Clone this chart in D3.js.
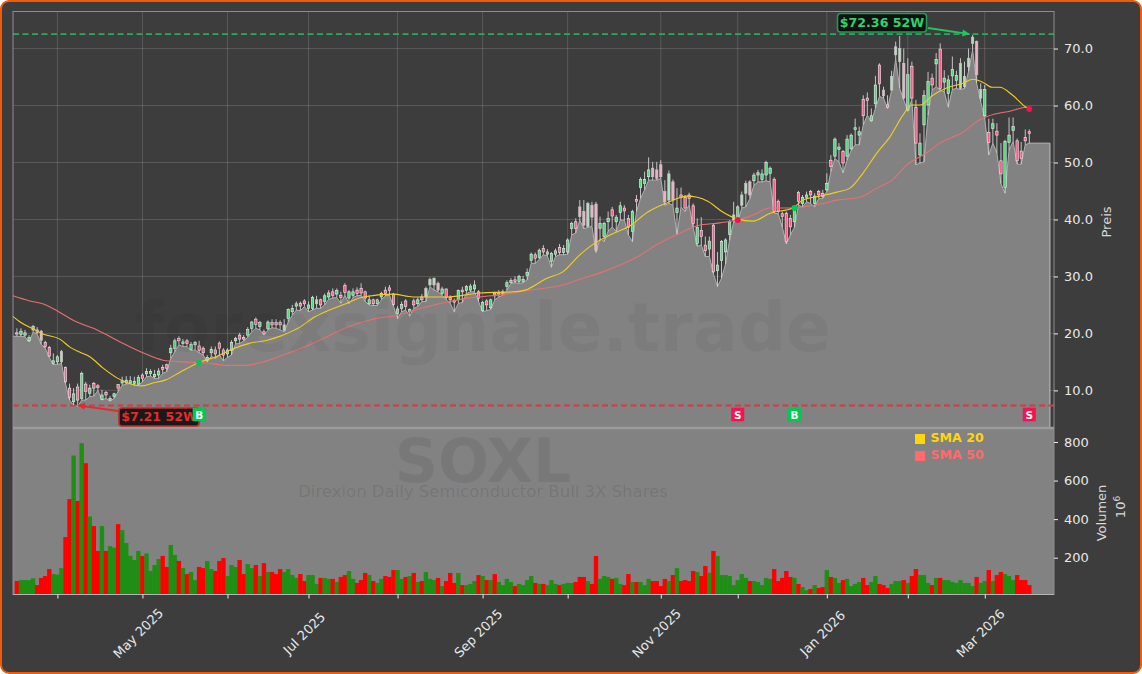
<!DOCTYPE html>
<html><head><meta charset="utf-8">
<script src="https://cdn.jsdelivr.net/npm/d3@7/dist/d3.min.js"></script>
<style>
html,body{margin:0;padding:0;background:#fff;overflow:hidden}
#frame{position:absolute;left:0;top:0;width:1142px;height:674px;box-sizing:border-box;background:#3d3d3d;border:2px solid #f05a0a;border-radius:9px;overflow:hidden}
svg{position:absolute;left:-2px;top:-2px;font-family:"DejaVu Sans",sans-serif}
</style></head><body><div id="frame"></div>
<script>
const bodyLow=[19.9,19.8,19.7,18.7,20.6,20.2,18.8,17.7,16.0,14.7,
15.0,15.0,11.5,8.8,8.0,8.3,8.6,9.8,9.5,10.4,
10.5,8.4,9.2,8.3,8.9,10.4,11.3,11.3,11.3,11.2,
11.1,12.1,12.9,13.0,12.4,12.7,13.7,13.9,16.6,17.4,
18.7,18.2,18.2,17.2,18.0,17.0,16.6,15.3,16.6,16.4,
17.4,16.2,16.4,17.0,18.7,19.0,19.0,19.7,20.9,21.6,
21.2,20.0,20.8,21.5,21.5,21.5,20.5,22.6,23.8,24.8,
24.8,25.2,24.4,24.4,25.2,25.0,25.6,26.4,26.7,26.9,
26.3,27.2,26.2,26.7,27.0,27.1,26.2,25.2,25.2,25.2,
26.4,27.0,27.5,25.1,23.5,24.4,24.7,23.8,25.0,25.2,
25.9,26.4,28.5,28.5,27.6,27.0,26.3,25.9,25.5,25.9,
27.3,27.5,27.6,27.8,26.2,24.0,25.0,24.5,26.6,26.9,
27.0,28.2,28.9,29.1,29.1,29.1,30.2,32.8,33.2,33.3,
34.3,33.9,32.6,33.9,34.2,34.2,34.3,38.4,38.4,40.5,
39.0,38.8,40.4,34.6,38.4,37.0,39.6,40.6,39.6,41.2,
41.5,38.6,37.9,43.2,45.6,46.3,47.5,47.5,47.2,47.5,
43.1,43.4,43.4,41.2,43.9,42.0,43.7,39.3,35.8,37.0,
34.5,34.8,30.8,31.0,32.8,34.3,37.4,39.9,40.2,42.5,
44.6,44.3,46.8,47.8,47.0,47.8,48.1,41.4,41.4,40.5,
36.1,38.7,39.6,43.2,42.8,43.9,44.3,42.8,44.3,44.0,
45.2,49.3,51.1,52.3,49.9,51.1,52.4,55.8,54.8,58.2,
60.9,57.3,60.3,63.8,61.7,59.7,62.7,68.9,67.7,61.3,
59.2,61.3,53.4,51.3,56.6,60.1,63.6,67.3,63.0,64.1,
62.1,65.2,64.4,63.0,63.3,66.8,70.9,65.4,61.3,58.2,
53.5,56.0,54.8,48.0,45.6,53.5,55.6,50.3,50.7,53.8,55.1];
const bodyHigh=[20.1,20.4,20.1,19.3,21.2,20.6,20.4,18.4,17.5,15.2,
15.9,16.8,14.0,10.4,9.4,10.6,13.0,11.1,10.4,11.2,
10.8,9.2,9.6,8.6,9.4,11.0,11.7,11.8,11.7,11.6,
12.3,12.7,13.3,13.3,12.8,13.4,14.0,14.5,17.4,18.7,
19.1,18.5,18.7,18.1,18.4,17.8,17.4,15.8,17.2,17.1,
18.3,17.1,17.1,18.4,19.1,19.7,19.3,20.7,22.0,22.5,
21.9,20.3,22.0,21.9,21.9,21.9,21.5,24.2,24.4,25.2,
25.3,25.7,25.0,26.3,25.9,25.9,26.6,27.1,27.3,27.5,
26.7,28.4,27.3,27.3,27.6,27.9,27.3,25.9,25.9,25.9,
27.0,27.6,28.0,26.9,24.3,25.1,25.7,24.2,25.7,25.9,
26.4,27.9,29.5,29.7,28.8,27.8,27.8,26.3,25.7,27.5,
27.6,28.2,28.3,28.5,27.3,25.4,25.7,25.9,27.0,27.2,
27.3,28.9,29.3,29.4,30.0,29.5,30.7,33.9,33.8,34.6,
34.9,34.3,34.0,34.5,35.1,34.9,36.4,39.3,39.6,42.2,
41.4,42.8,42.5,42.7,39.3,39.3,40.2,41.7,40.4,42.4,
42.0,40.2,41.4,43.5,47.0,47.0,48.7,49.0,48.7,49.6,
44.9,48.0,46.6,42.0,44.3,43.9,44.3,42.4,38.6,38.1,
35.5,36.2,39.0,32.0,36.1,36.4,39.6,40.8,42.2,44.3,
46.3,46.6,47.8,48.2,48.0,50.0,49.0,47.0,43.2,41.0,
41.1,40.2,42.0,44.7,43.9,44.3,44.9,44.1,44.9,44.6,
46.3,50.4,54.1,52.7,51.9,54.1,54.8,56.1,55.4,61.1,
61.3,58.2,63.6,67.1,62.7,60.1,65.1,70.3,70.0,67.4,
65.4,66.9,59.7,53.4,61.8,64.2,64.8,68.1,69.9,64.8,
64.5,66.3,65.3,67.4,65.1,68.3,72.0,71.2,62.8,62.8,
55.3,56.8,55.5,50.3,53.7,54.8,56.3,53.8,52.0,54.4,55.4];
const lows=[19.5,19.5,19.4,18.5,20.2,19.9,18.1,17.4,15.8,14.5,
14.6,14.7,11.2,8.3,7.4,7.21,8.3,8.3,8.9,9.0,
10.0,8.3,8.6,8.1,8.6,9.8,10.9,11.1,11.2,10.9,
10.9,11.5,12.4,12.5,12.1,12.1,13.0,13.3,15.6,16.8,
18.0,17.7,17.7,17.0,17.1,16.6,16.2,15.0,16.0,15.6,
16.2,15.2,15.8,16.2,18.2,18.2,18.7,19.3,20.3,20.9,
20.6,19.7,20.6,21.0,20.9,20.6,20.3,22.0,23.2,24.1,
24.0,24.7,23.8,24.1,24.4,24.4,25.0,26.0,26.2,26.3,
25.3,26.7,25.2,26.3,26.6,26.7,25.6,25.0,24.9,24.9,
25.9,26.6,26.7,24.8,22.6,23.8,24.1,23.0,24.4,24.7,
25.6,25.6,28.2,27.6,27.3,26.7,25.9,25.3,23.8,25.3,
25.4,27.0,27.3,27.3,25.6,23.8,24.0,24.2,25.9,26.4,
26.7,27.6,28.8,28.9,28.8,28.9,29.4,32.3,32.3,33.0,
33.8,33.6,31.6,33.5,33.8,33.8,33.9,37.3,37.6,39.9,
38.4,38.6,38.8,34.2,36.7,36.1,37.9,38.7,37.9,39.9,
39.9,37.3,36.1,41.4,43.7,45.2,46.9,46.9,46.9,47.2,
42.5,42.8,42.5,37.3,42.2,41.4,42.5,38.6,35.3,35.5,
33.5,33.5,30.5,28.2,29.7,32.2,36.4,39.6,39.6,42.0,
42.2,43.7,46.0,46.6,46.6,46.8,46.6,41.1,41.0,38.7,
35.7,37.3,38.6,42.5,42.2,43.1,42.8,42.2,43.7,43.7,
44.9,48.4,50.7,50.1,48.2,50.4,52.1,53.1,53.1,56.6,
58.3,57.2,59.5,61.6,61.3,59.5,62.7,68.2,63.0,61.0,
59.0,61.0,49.6,49.9,50.1,58.3,62.7,63.3,62.7,62.4,
59.7,62.8,63.0,62.8,63.0,66.0,69.7,63.9,60.7,57.7,
51.3,53.4,51.7,46.3,44.6,52.2,53.7,49.7,49.7,53.1,53.4];
const highs=[20.9,20.9,20.6,19.7,21.5,21.1,20.6,18.7,17.8,16.5,
16.2,17.1,14.2,11.2,10.4,11.2,13.3,11.5,11.0,11.5,
11.1,10.1,9.9,9.0,9.6,11.1,12.4,12.5,12.5,12.4,
12.7,13.0,13.9,13.7,13.6,13.9,14.5,14.7,18.0,19.1,
19.5,19.0,19.0,18.5,18.7,18.7,17.7,16.2,17.7,17.7,
18.6,17.4,17.4,18.8,19.4,20.1,19.7,21.1,22.2,22.8,
22.2,20.7,22.3,22.5,22.5,22.3,22.5,24.4,25.0,25.6,
25.6,26.0,25.6,26.6,26.6,26.1,27.0,27.6,27.9,27.9,
27.3,28.8,27.6,27.9,28.1,28.8,27.5,26.7,26.1,26.1,
27.3,28.2,28.5,27.1,24.8,25.6,26.0,24.4,26.1,26.3,
26.9,28.2,29.8,29.8,29.1,28.2,27.9,26.7,26.1,27.7,
28.2,28.5,28.7,29.3,27.6,25.7,26.0,26.1,27.3,27.6,
27.7,29.3,29.7,30.0,30.3,30.1,31.4,34.2,34.2,34.9,
35.5,34.8,34.3,34.9,35.7,35.5,36.7,39.6,40.2,43.4,
43.4,43.1,43.1,43.1,40.5,39.6,41.4,42.2,40.8,43.1,
42.5,40.8,41.7,44.3,47.4,48.4,50.9,50.1,50.1,50.4,
46.9,48.6,47.0,45.5,45.6,44.3,44.7,42.8,40.2,40.4,
37.0,37.0,39.3,34.3,36.4,36.7,39.9,43.1,42.5,44.9,
46.8,46.9,48.2,48.7,48.8,50.3,49.3,47.4,43.5,41.4,
41.4,40.8,42.2,45.0,44.3,44.9,45.2,44.6,45.2,45.2,
48.1,51.3,54.4,53.4,52.2,54.8,55.1,57.7,56.3,61.8,
62.3,59.5,65.2,67.4,63.3,61.8,66.1,71.2,72.2,70.0,
68.3,67.7,61.0,55.1,62.7,65.9,65.6,69.2,70.9,66.2,
65.3,68.6,66.1,68.3,67.7,70.0,72.36,71.4,63.9,63.6,
57.7,57.7,56.9,53.4,54.0,57.9,57.9,54.2,53.6,55.8,55.8];
const direction="DUUUUDDDDU"+"UUDDUDUDUD"+"DUDUUDUUUU"+"UDUUUUDDUU"+"DUDUUDDUUD"+"DDUUUDDUUD"+"UDUDDDUUUU"+"DDUUUDUUDU"+"DDUUDDDUDU"+"UDDDUUDUDU"+"DUUUDUDDDU"+"DUUUDUDUDU"+"UUUDUUUUDU"+"DUUUDUUUDD"+"DUDDUUUDUU"+"DDUDUUUDDD"+"DUDUDDDDUD"+"DUDUUUUUUU"+"UDUUUUUDDD"+"DDUDUUDUDD"+"UDUUDUUUUD"+"DUUDDDUUUD"+"UDDUUUDUDU"+"UUUUUUUDUU"+"DUDDUUUDDDD";
const volumes=[79,84,84,84,93,58,95,105,141,115,
112,146,307,504,730,494,794,690,414,364,
235,364,235,260,252,374,343,276,210,188,
235,209,222,131,162,193,209,152,266,214,
183,146,115,126,84,152,146,183,141,131,
183,198,105,162,152,188,115,167,146,162,
105,172,126,126,115,141,126,141,110,95,
115,79,110,110,64,95,95,90,90,74,
100,110,131,90,69,84,121,110,79,69,
90,105,100,136,136,90,100,105,121,74,
79,126,90,84,95,53,79,121,69,121,
58,58,64,79,110,105,84,84,115,74,
58,90,74,53,64,58,84,105,69,64,
64,58,84,64,58,64,69,69,74,100,
100,79,64,209,90,105,100,90,95,64,
58,115,74,74,74,58,90,79,79,53,
90,79,110,146,79,84,79,131,126,105,
157,121,235,209,110,110,105,58,84,115,
95,79,79,74,58,95,90,141,79,95,
131,100,95,64,48,32,38,58,43,48,
136,100,95,69,84,90,53,64,74,95,
58,74,105,64,58,43,64,79,79,84,
69,105,141,110,110,69,58,95,95,84,
84,74,69,84,69,69,53,100,69,79,
136,79,110,126,115,105,84,110,84,84,58];
const paleCandles=[6,11,66,74,101,102,103,104,139,140,141,142,143,157,158,159,160,161,162,177,179,180,181,214,216,217,218,219,233,234,235,236,237,238];
const sma20Index=[-1,0.8,4,6.4,10.6,13.1,15.6,18,21.3,24.7,27.4,30.9,33.6,36.6,40.3,44.7,49.4,53.4,57.6,61.8,65.7,69.9,73.1,81.5,85.5,92.9,97.8,106.2,114.3,122.5,125.5,130.9,134.8,139,142,146.6,151.4,155.8,160.5,165.5,168,170.6,174.3,177.8,181.8,186,191.6,194.1,198.3,202.5,205.7,208.9,212.4,215.6,218.8,221,223,226.2,229.7,233.6,236.1,238.5,240.8,242.7,245.9,249.4,250];
const sma20Value=[23.0,22.0,20.8,19.9,19.0,17.6,16.7,15.9,13.9,12.2,11.3,10.8,11.3,11.8,13.2,14.8,16.0,17.3,18.3,18.8,19.7,21.1,22.7,25.3,26.4,26.9,26.4,26.4,27.1,27.3,27.6,29.7,30.8,33.8,35.5,37.3,38.9,41.3,42.9,44.1,43.9,43.2,41.3,40.1,39.7,41.1,42.0,43.4,44.1,44.8,45.5,48.1,51.7,54.5,58.3,60.1,60.1,61.8,63.1,63.9,64.6,64.1,63.2,63.2,61.8,59.6,59.4];
const sma50Index=[-1,3.2,6.4,10.1,13.9,19.8,25.5,31.1,36.1,41,46.9,51.9,56.8,60.8,65.7,69.9,74.8,81.5,87.9,93.9,100.3,106.2,111.2,118.6,126.7,134.8,139,144.7,153.1,158.8,163.7,168,173.6,177.8,181.8,186,190.2,194.1,198.3,202.5,208.2,212.4,216.1,219.8,224.7,227.9,233.6,237.8,241.5,245.2,249.4,250];
const sma50Value=[26.6,25.7,25.2,23.9,22.3,20.6,18.5,16.6,15.3,15.0,14.8,14.4,14.4,15.0,16.2,17.3,18.8,21.1,22.5,23.2,24.5,25.5,26.2,26.7,27.6,28.5,29.5,30.8,33.4,35.9,37.6,38.9,39.4,39.9,40.8,42.0,42.0,42.2,42.7,43.4,43.9,45.5,46.9,49.6,51.7,53.4,55.3,57.5,58.5,59.0,59.7,59.5];
const signalIndex=[45,178,192,250];
const signalType=["B","S","B","S"];
const signalPrice=[14.8,39.9,42.0,59.4];
const dateTicks=[10,31,52,72,94,115,136,159,178,200,220,239];
const dateLabels=["","May 2025","","Jul 2025","","Sep 2025","","Nov 2025","","Jan 2026","","Mar 2026"];
const priceTicks=[10,20,30,40,50,60,70];
const volumeTicks=[200,400,600,800];
const high52=72.36, low52=7.21, highIndex=236, lowIndex=15;

const W=1142,H=674,L=13,R=1054,T=11.5,M=428,B=594.5;
const svg=d3.select("#frame").append("svg").attr("width",W).attr("height",H);
const x=d3.scaleLinear().domain([-0.963,256.1]).range([L,R]);
const y=d3.scaleLinear().domain([3.4,76.5]).range([M,T]);
const yv=d3.scaleLinear().domain([9.1,872.6]).range([B,M]);
const idx=d3.range(bodyLow.length);
const fmt=d3.format(".1f");

// volume panel
svg.append("rect").attr("x",L).attr("y",M).attr("width",R-L).attr("height",B-M).attr("fill","#828282");

// grid
const grid=svg.append("g").attr("stroke","#fff").attr("stroke-opacity",.15).attr("stroke-width",1);
grid.selectAll("line.h").data(priceTicks).join("line").attr("class","h").attr("x1",L).attr("x2",R).attr("y1",d=>y(d)).attr("y2",d=>y(d));
grid.selectAll("line.v").data(dateTicks).join("line").attr("class","v").attr("x1",d=>x(d)).attr("x2",d=>x(d)).attr("y1",T).attr("y2",M);

// price area over the lows
const areaPts=[[-0.963,lows[0]],...idx.map(i=>[i,lows[i]]),[255.1,lows[250]]];
svg.append("path").datum(areaPts)
  .attr("d",d3.area().x(d=>x(d[0])).y0(M).y1(d=>y(d[1])))
  .attr("fill","#848484").attr("fill-opacity",.97);
svg.append("path").datum(areaPts)
  .attr("d",d3.line().x(d=>x(d[0])).y(d=>y(d[1])))
  .attr("fill","none").attr("stroke","#b0b0b0").attr("stroke-width",1);
svg.append("line").attr("x1",x(255.1)).attr("x2",x(255.1)).attr("y1",y(lows[250])).attr("y2",M).attr("stroke","#c0c0c0");

// dashed 52W levels
svg.append("line").attr("x1",L).attr("x2",R).attr("y1",y(high52)-1).attr("y2",y(high52)-1)
  .attr("stroke","#2ea85c").attr("stroke-width",1.8).attr("stroke-dasharray","6,3.5");
svg.append("line").attr("x1",L).attr("x2",R).attr("y1",y(low52)-.8).attr("y2",y(low52)-.8)
  .attr("stroke","#d8393c").attr("stroke-width",1.8).attr("stroke-dasharray","6,3.5");

// candles
const paleSet=new Set(paleCandles);
const c=svg.append("g").selectAll("g").data(idx).join("g");
c.append("line").attr("x1",i=>x(i)).attr("x2",i=>x(i)).attr("y1",i=>y(highs[i])).attr("y2",i=>y(lows[i]))
  .attr("stroke","#d4d4d4").attr("stroke-width",.9);
c.append("rect").attr("x",i=>x(i)-1.2).attr("width",2.4)
  .attr("y",i=>y(bodyHigh[i])).attr("height",i=>Math.max(1.2,y(bodyLow[i])-y(bodyHigh[i])))
  .attr("fill",i=>{const up=direction[i]==="U";return paleSet.has(i)?(up?"#b4dcbc":"#e6b4c6"):(up?"#55d67f":"#ff5a88");})
  .attr("stroke",i=>paleSet.has(i)?"#c8c8c8":"#ececec").attr("stroke-width",.6);

// SMA
const smaLine=d3.line().x(d=>x(d[0])).y(d=>y(d[1])).curve(d3.curveMonotoneX);
svg.append("path").datum(sma50Index.map((k,j)=>[k,sma50Value[j]])).attr("d",smaLine)
  .attr("fill","none").attr("stroke","#e87070").attr("stroke-width",1.1);
svg.append("path").datum(sma20Index.map((k,j)=>[k,sma20Value[j]])).attr("d",smaLine)
  .attr("fill","none").attr("stroke","#f2cf1d").attr("stroke-width",1.1);

// signals
svg.append("g").selectAll("circle").data(signalIndex).join("circle")
  .attr("cx",d=>x(d)).attr("cy",(d,j)=>y(signalPrice[j])).attr("r",3)
  .attr("fill",(d,j)=>signalType[j]==="B"?"#00c853":"#f5134f");

// volume bars
svg.append("g").selectAll("rect").data(idx).join("rect")
  .attr("x",i=>x(i)-2.2).attr("width",4.4)
  .attr("y",i=>yv(volumes[i])).attr("height",i=>B-yv(volumes[i]))
  .attr("fill",i=>direction[i]==="U"?"#1e8f14":"#ff0000");

// panel frame
svg.append("rect").attr("x",L).attr("y",T).attr("width",R-L).attr("height",B-T).attr("fill","none").attr("stroke","#8e8e8e").attr("stroke-width",1);
svg.append("line").attr("x1",L).attr("x2",R).attr("y1",M).attr("y2",M).attr("stroke","#9c9c9c").attr("stroke-width",2.4);
svg.append("line").attr("x1",L).attr("x2",R).attr("y1",B).attr("y2",B).attr("stroke","#b4b4b4").attr("stroke-width",1);

// axes
function styleAxis(g){g.select(".domain").remove();g.selectAll("line").attr("stroke","#eee");g.selectAll("text").attr("fill","#e8e8e8").attr("font-size",13).attr("font-family",'"DejaVu Sans",sans-serif');}
svg.append("g").attr("transform",`translate(${R},0)`)
  .call(d3.axisRight(y).tickValues(priceTicks).tickFormat(fmt).tickSize(4).tickPadding(6)).call(styleAxis);
svg.append("g").attr("transform",`translate(${R},0)`)
  .call(d3.axisRight(yv).tickValues(volumeTicks).tickFormat(d3.format("d")).tickSize(4).tickPadding(6)).call(styleAxis);
const xAxis=svg.append("g").attr("transform",`translate(0,${B})`)
  .call(d3.axisBottom(x).tickValues(dateTicks).tickFormat((d,j)=>dateLabels[j]).tickSize(4)).call(styleAxis);
xAxis.selectAll("text").attr("text-anchor","middle").attr("dy",0).attr("y",0)
  .attr("transform",`translate(-1.5,${632-B+4.5}) rotate(-45)`);

// axis titles
function vtext(tx,ty,s,size,col){return svg.append("text").attr("transform",`translate(${tx},${ty}) rotate(-90)`).attr("text-anchor","middle").attr("font-size",size).attr("fill",col).text(s);}
vtext(1111,222,"Preis",13,"#d8d8d8");
vtext(1106,513,"Volumen",13,"#d8d8d8");
const p6=svg.append("text").attr("transform","translate(1125,507) rotate(-90)").attr("text-anchor","middle").attr("font-size",13).attr("fill","#d8d8d8");
p6.append("tspan").text("10");
p6.append("tspan").attr("font-size",9).attr("dy",-5).text("6");

// 52W annotations
function arrow(x1,y1,x2,y2,col){
  svg.append("line").attr("x1",x1).attr("y1",y1).attr("x2",x2).attr("y2",y2).attr("stroke",col).attr("stroke-width",1.8);
  const a=Math.atan2(y2-y1,x2-x1),s=8;
  const pts=[[x2,y2],[x2-s*Math.cos(a-.45),y2-s*Math.sin(a-.45)],[x2-s*Math.cos(a+.45),y2-s*Math.sin(a+.45)]];
  svg.append("polygon").attr("points",pts.join(" ")).attr("fill",col);
}
arrow(928,28,x(highIndex)-3,y(high52)-1,"#22c55e");
arrow(118,411,x(lowIndex),y(low52)-1,"#e02b2f");
function badge(bx,by,bw,bh,s,edge,col){
  svg.append("rect").attr("x",bx).attr("y",by).attr("width",bw).attr("height",bh).attr("rx",3).attr("fill","#0a0a0a").attr("fill-opacity",.88).attr("stroke",edge).attr("stroke-width",1.6);
  svg.append("text").attr("x",bx+bw/2).attr("y",by+bh/2+4.4).attr("text-anchor","middle").attr("font-size",12.6).attr("font-weight","bold").attr("fill",col).text(s);
}
badge(837.5,13.5,89,18.5,"$"+high52+" 52W","#1f9d55","#2bd46f");
badge(119,408,80,18,"$"+low52+" 52W","#c62828","#e8282c");

// signal labels
const sg=svg.append("g").selectAll("g").data(signalIndex).join("g").attr("transform",d=>`translate(${x(d)},414.5)`);
sg.append("rect").attr("x",-6.5).attr("y",-6.8).attr("width",13).attr("height",13.6).attr("fill",(d,j)=>signalType[j]==="B"?"#00c853":"#f5134f");
sg.append("text").attr("text-anchor","middle").attr("y",4).attr("font-size",10.5).attr("font-weight","bold").attr("fill","#fff").text((d,j)=>signalType[j]);

// legend
const legendNames=["SMA 20","SMA 50"],legendColors=["#ffd60a","#ff6b6b"];
const lg=svg.append("g").selectAll("g").data(legendNames).join("g").attr("transform",(d,j)=>`translate(915,${434+17*j})`);
lg.append("rect").attr("width",10).attr("height",10).attr("fill",(d,j)=>legendColors[j]);
lg.append("text").attr("x",15.5).attr("y",8.4).attr("font-size",12.6).attr("font-weight","bold").attr("fill",(d,j)=>legendColors[j]).text(d=>d);

// watermarks
const wm=svg.append("g").attr("text-anchor","middle").attr("fill","#000");
wm.append("text").attr("x",483).attr("y",351).attr("font-size",66.8).attr("font-weight","bold").attr("fill-opacity",.045).text("forexsignale.trade");
wm.append("text").attr("x",483).attr("y",482).attr("font-size",60).attr("font-weight","bold").attr("fill-opacity",.07).text("SOXL");
wm.append("text").attr("x",483).attr("y",497).attr("font-size",16.5).attr("fill-opacity",.1).text("Direxion Daily Semiconductor Bull 3X Shares");
</script></body></html>
